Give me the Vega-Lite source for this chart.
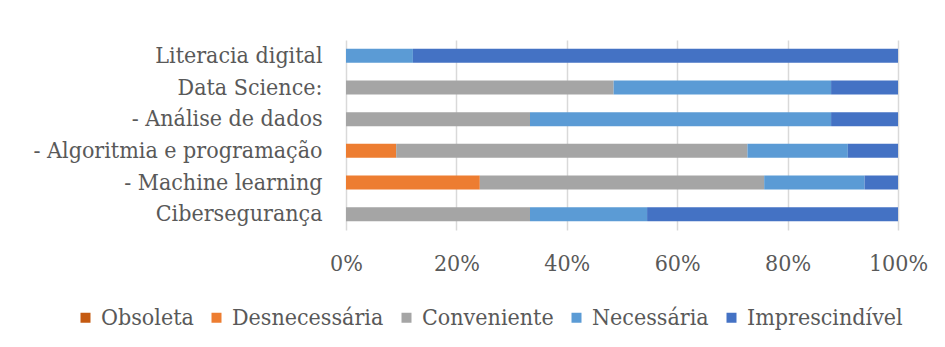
{
  "$schema": "https://vega.github.io/schema/vega-lite/v6.json",
  "width": 552,
  "height": 190,
  "autosize": {"type": "none"},
  "padding": {"left": 346, "top": 40, "right": 47, "bottom": 117},
  "background": "white",
  "data": {
    "values": [
      {"competencia": "Literacia digital", "nivel": "Necessária", "ordem": 4, "n": 4},
      {"competencia": "Literacia digital", "nivel": "Imprescindível", "ordem": 5, "n": 29},
      {"competencia": "Data Science:", "nivel": "Conveniente", "ordem": 3, "n": 16},
      {"competencia": "Data Science:", "nivel": "Necessária", "ordem": 4, "n": 13},
      {"competencia": "Data Science:", "nivel": "Imprescindível", "ordem": 5, "n": 4},
      {"competencia": "- Análise de dados", "nivel": "Conveniente", "ordem": 3, "n": 11},
      {"competencia": "- Análise de dados", "nivel": "Necessária", "ordem": 4, "n": 18},
      {"competencia": "- Análise de dados", "nivel": "Imprescindível", "ordem": 5, "n": 4},
      {"competencia": "- Algoritmia e programação", "nivel": "Desnecessária", "ordem": 2, "n": 3},
      {"competencia": "- Algoritmia e programação", "nivel": "Conveniente", "ordem": 3, "n": 21},
      {"competencia": "- Algoritmia e programação", "nivel": "Necessária", "ordem": 4, "n": 6},
      {"competencia": "- Algoritmia e programação", "nivel": "Imprescindível", "ordem": 5, "n": 3},
      {"competencia": "- Machine learning", "nivel": "Desnecessária", "ordem": 2, "n": 8},
      {"competencia": "- Machine learning", "nivel": "Conveniente", "ordem": 3, "n": 17},
      {"competencia": "- Machine learning", "nivel": "Necessária", "ordem": 4, "n": 6},
      {"competencia": "- Machine learning", "nivel": "Imprescindível", "ordem": 5, "n": 2},
      {"competencia": "Cibersegurança", "nivel": "Conveniente", "ordem": 3, "n": 11},
      {"competencia": "Cibersegurança", "nivel": "Necessária", "ordem": 4, "n": 7},
      {"competencia": "Cibersegurança", "nivel": "Imprescindível", "ordem": 5, "n": 15}
    ]
  },
  "mark": {"type": "bar"},
  "encoding": {
    "y": {
      "field": "competencia",
      "type": "nominal",
      "sort": ["Literacia digital", "Data Science:", "- Análise de dados", "- Algoritmia e programação", "- Machine learning", "Cibersegurança"],
      "scale": {"paddingInner": 0.56, "paddingOuter": 0.28},
      "axis": {"title": null, "ticks": false, "domain": false, "grid": false, "labelFontSize": 23, "labelPadding": 24, "labelLimit": 400, "labelColor": "#595959", "labelFont": "DejaVu Serif Condensed"}
    },
    "x": {
      "field": "n",
      "type": "quantitative",
      "stack": "normalize",
      "scale": {"domain": [0, 1]},
      "axis": {"title": null, "format": ".0%", "values": [0, 0.2, 0.4, 0.6, 0.8, 1], "domain": false, "ticks": false, "labelFlush": false, "labelPadding": 22, "labelFontSize": 23, "labelColor": "#595959", "labelFont": "DejaVu Serif Condensed", "grid": true, "gridColor": "#D9D9D9", "gridWidth": 1.5}
    },
    "order": {"field": "ordem", "type": "quantitative", "sort": "ascending"},
    "color": {
      "field": "nivel",
      "type": "nominal",
      "sort": ["Obsoleta", "Desnecessária", "Conveniente", "Necessária", "Imprescindível"],
      "scale": {
        "domain": ["Obsoleta", "Desnecessária", "Conveniente", "Necessária", "Imprescindível"],
        "range": ["#C55A11", "#ED7D31", "#A5A5A5", "#5B9BD5", "#4472C4"]
      },
      "legend": {
        "title": null,
        "orient": "none",
        "direction": "horizontal",
        "legendX": -272,
        "legendY": 266,
        "symbolType": "square",
        "symbolSize": 100,
        "symbolStrokeWidth": 0,
        "labelFontSize": 23,
        "labelFont": "DejaVu Serif Condensed",
        "labelColor": "#595959",
        "labelOffset": 4,
        "columnPadding": 11,
        "labelLimit": 300
      }
    }
  },
  "config": {"view": {"stroke": null}}
}
